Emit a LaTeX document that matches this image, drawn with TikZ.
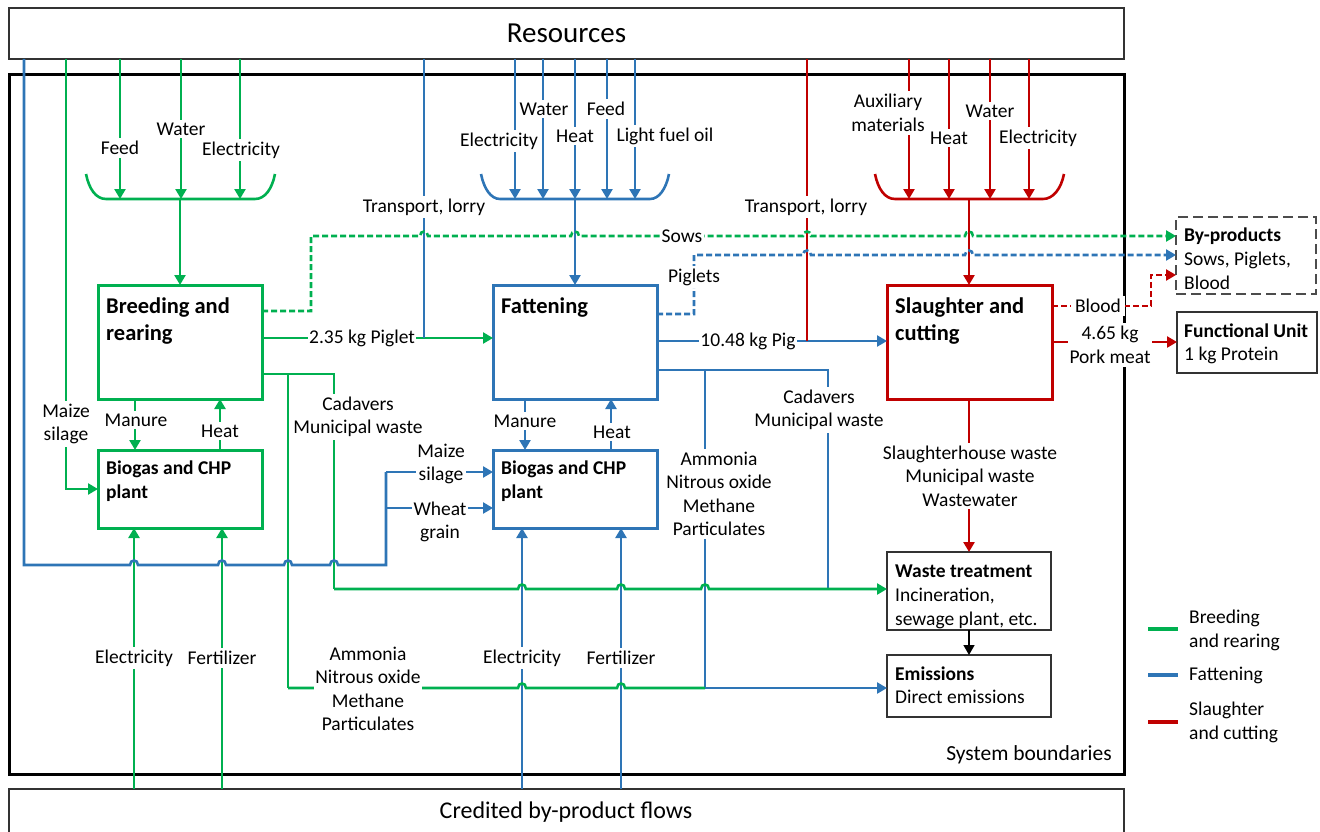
\documentclass[tikz,border=0pt]{standalone}
\usepackage{fontspec}
\setmainfont{Carlito}
\usetikzlibrary{arrows.meta}
\definecolor{grn}{RGB}{0,176,80}
\definecolor{blu}{RGB}{46,117,182}
\definecolor{rd}{RGB}{192,0,0}
\tikzset{
 fl/.style={line width=2.6pt},
 gl/.style={fl,draw=grn},
 bl/.style={fl,draw=blu},
 rl/.style={fl,draw=rd},
 arr/.style={-{Triangle[length=10pt,width=11pt]}},
 dsh/.style={dash pattern=on 6pt off 3pt},
 hop/.style args={#1/#2}{insert path={-- (#1-4,#2) .. controls (#1-4,#2-6) and (#1+4,#2-6) .. (#1+4,#2)}},
 lab/.style={font=\fontsize{19.5}{23.5}\selectfont, fill=white, inner xsep=1.5pt, inner ysep=3pt, align=center},
 pbox/.style={draw, line width=3pt, anchor=north west, inner sep=0pt, outer sep=0pt},
 kbox/.style={draw=black!80, line width=1.5pt, anchor=north west, inner sep=0pt, outer sep=0pt},
 ttl/.style={font=\fontsize{22.5}{27}\selectfont\bfseries, anchor=base west, inner sep=0pt},
 btl/.style={font=\fontsize{19.5}{24}\selectfont\bfseries, anchor=base west, inner sep=0pt},
 txt/.style={font=\fontsize{19.5}{24}\selectfont, anchor=base west, inner sep=0pt},
}
\begin{document}
\begin{tikzpicture}[x=1pt,y=-1pt]
\useasboundingbox (0,0) rectangle (1320,832);
% frames
\node[kbox, minimum width=1115pt, minimum height=51pt, font=\fontsize{29}{34}\selectfont] (res) at (9,8) {Resources};
\node[draw=black, line width=3pt, anchor=north west, inner sep=0pt, outer sep=0pt, minimum width=1115pt, minimum height=699pt] (sys) at (9,75) {};
\node[kbox, minimum width=1115pt, minimum height=70pt] (cred) at (9,789) {};
\node[font=\fontsize{24}{28}\selectfont] (credt) at (566,812) {Credited by-product flows};
\node[font=\fontsize{21.5}{26}\selectfont] (sysb) at (1029,755) {System boundaries};
% process boxes
\node[pbox, draw=grn, minimum width=164pt, minimum height=114pt] (breed) at (98,285) {};
\node[pbox, draw=grn, minimum width=164pt, minimum height=78pt] (bgA) at (98,450) {};
\node[pbox, draw=blu, minimum width=164pt, minimum height=114pt] (fat) at (493,285) {};
\node[pbox, draw=blu, minimum width=164pt, minimum height=78pt] (bgB) at (493,450) {};
\node[pbox, draw=rd, minimum width=165pt, minimum height=114pt] (slau) at (887,285) {};
\node[kbox, minimum width=164pt, minimum height=78pt] (waste) at (887,552) {};
\node[kbox, minimum width=164pt, minimum height=62pt] (emis) at (887,655) {};
\node[kbox, minimum width=140pt, minimum height=61pt] (fu) at (1177,312) {};
\node[kbox, draw=black!70, dash pattern=on 10pt off 5pt, minimum width=140pt, minimum height=77pt] (byp) at (1176,217) {};
% box texts
\node[ttl] (t1) at (106,313) {Breeding and};
\node[ttl] (t2) at (106,340) {rearing};
\node[btl] (t3) at (106,474) {Biogas and CHP};
\node[btl] (t4) at (106,498) {plant};
\node[ttl] (t5) at (501,313) {Fattening};
\node[btl] (t6) at (501,474) {Biogas and CHP};
\node[btl] (t7) at (501,498) {plant};
\node[ttl] (t8) at (895,313) {Slaughter and};
\node[ttl] (t9) at (895,340) {cutting};
\node[btl] (t10) at (895,577) {Waste treatment};
\node[txt] (t11) at (895,601) {Incineration,};
\node[txt] (t12) at (895,625) {sewage plant, etc.};
\node[btl] (t13) at (895,680) {Emissions};
\node[txt] (t14) at (895,703) {Direct emissions};
\node[btl] (t15) at (1184,337) {Functional Unit};
\node[txt] (t16) at (1184,360) {1 kg Protein};
\node[btl] (t17) at (1184,241) {By-products};
\node[txt] (t18) at (1184,265) {Sows, Piglets,};
\node[txt] (t19) at (1184,289) {Blood};
% ---------- green flows
\draw[gl,arr] (66,59) -- (66,489) -- (bgA.west);
\draw[gl,arr] (120,59) -- (120,199);
\draw[gl,arr] (181,59) -- (181,199);
\draw[gl,arr] (240,59) -- (240,199);
\draw[gl] (86,174) .. controls (89,189) and (96,199) .. (106,199) -- (255,199) .. controls (265,199) and (272,189) .. (275,174);
\draw[gl,arr] (180,199) -- (breed.north);
\draw[gl,arr] (135,399) -- (135,450);
\draw[gl,arr] (220,450) -- (220,399);
\draw[gl,arr] (134,789) -- (134,528);
\draw[gl,arr] (222,789) -- (222,528);
\draw[gl,arr] (262,338) -- (493,338);
\draw[gl] (262,374) -- (334,374) -- (334,589);
\draw[gl] (288,374) -- (288,688);
% ---------- blue flows
\draw[bl] (24,59) -- (24,565) [hop=134/565] [hop=222/565] [hop=288/565] [hop=334/565] -- (386,565) -- (386,472);
\draw[bl,arr] (386,472) -- (493,472);
\draw[bl,arr] (386,508) -- (493,508);
\draw[bl] (424,59) -- (424,338);
\draw[bl,arr] (515,59) -- (515,199);
\draw[bl,arr] (543,59) -- (543,199);
\draw[bl,arr] (575,59) -- (575,199);
\draw[bl,arr] (607,59) -- (607,199);
\draw[bl,arr] (635,59) -- (635,199);
\draw[bl] (481,174) .. controls (484,189) and (491,199) .. (500,199) -- (650,199) .. controls (659,199) and (666,189) .. (669,174);
\draw[bl,arr] (575,199) -- (fat.north);
\draw[bl,arr] (525,399) -- (525,450);
\draw[bl,arr] (611,450) -- (611,399);
\draw[bl,arr] (522,789) -- (522,528);
\draw[bl,arr] (621,789) -- (621,528);
\draw[bl,arr] (657,341) -- (887,341);
\draw[bl] (657,370) -- (828,370) -- (828,589);
\draw[bl] (705,370) -- (705,688);
\draw[bl,arr] (705,688) -- (887,688);
% green horizontals with hops
\draw[gl,arr] (334,589) [hop=522/589] [hop=621/589] [hop=705/589] -- (887,589);
\draw[gl] (288,688) [hop=522/688] [hop=621/688] -- (705,688);
% ---------- red flows
\draw[rl] (807,59) -- (807,341);
\draw[rl,arr] (909,59) -- (909,199);
\draw[rl,arr] (949,59) -- (949,199);
\draw[rl,arr] (990,59) -- (990,199);
\draw[rl,arr] (1029,59) -- (1029,199);
\draw[rl] (875,174) .. controls (878,189) and (885,199) .. (895,199) -- (1043,199) .. controls (1053,199) and (1061,189) .. (1064,174);
\draw[rl,arr] (969,199) -- (969,285);
\draw[rl,arr] (1052,342) -- (1177,342);
\draw[rl,arr] (969,399) -- (969,552);
\draw[black,line width=1.5pt,arr] (969,630) -- (969,655);
% ---------- dashed by-product flows
\draw[gl,dsh,arr] (262,311) -- (311,311) -- (311,236) [hop=424/236] [hop=575/236] [hop=807/236] [hop=969/236] -- (1176,236);
\draw[bl,dsh,arr] (657,314) -- (694,314) -- (694,255) [hop=807/255] [hop=969/255] -- (1176,255);
\draw[rl,dsh,arr] (1052,306) -- (1151,306) -- (1151,275) -- (1176,275);
% ---------- labels
\node[lab] (a1) at (120,148) {Feed};
\node[lab] (a2) at (181,129) {Water};
\node[lab] (a3) at (241,150) {Electricity};
\node[lab] (a4) at (499,141) {Electricity};
\node[lab] (a5) at (544,109) {Water};
\node[lab] (a6) at (575,136) {Heat};
\node[lab] (a7) at (606,109) {Feed};
\node[lab] (a8) at (665,136) {Light fuel oil};
\node[lab] (a9) at (888,113) {Auxiliary\\materials};
\node[lab] (a10) at (949,138) {Heat};
\node[lab] (a11) at (990,111) {Water};
\node[lab] (a12) at (1038,138) {Electricity};
\node[lab] (a13) at (424,207) {Transport, lorry};
\node[lab] (a14) at (806,207) {Transport, lorry};
\node[lab] (a15) at (682,236) {Sows};
\node[lab] (a16) at (694,277) {Piglets};
\node[lab] (a17) at (362,338) {2.35 kg Piglet};
\node[lab] (a18) at (748,341) {10.48 kg Pig};
\node[lab, inner xsep=4pt] (a19) at (1098,306) {Blood};
\node[lab] (a20) at (1110,345) {4.65 kg\\Pork meat};
\node[lab] (a21) at (66,424) {Maize\\silage};
\node[lab] (a22) at (136,420) {Manure};
\node[lab] (a23) at (220,431) {Heat};
\node[lab] (a24) at (358,417) {Cadavers\\Municipal waste};
\node[lab] (a25) at (525,421) {Manure};
\node[lab] (a26) at (612,432) {Heat};
\node[lab] (a27) at (441,464) {Maize\\silage};
\node[lab] (a28) at (440,522) {Wheat\\grain};
\node[lab] (a29) at (719,494) {Ammonia\\Nitrous oxide\\Methane\\Particulates};
\node[lab] (a30) at (819,410) {Cadavers\\Municipal waste};
\node[lab] (a31) at (970,476) {Slaughterhouse waste\\Municipal waste\\Wastewater};
\node[lab] (a32) at (368,689) {Ammonia\\Nitrous oxide\\Methane\\Particulates};
\node[lab] (a33) at (134,658) {Electricity};
\node[lab] (a34) at (222,658) {Fertilizer};
\node[lab] (a35) at (522,658) {Electricity};
\node[lab] (a36) at (621,658) {Fertilizer};
% ---------- legend
\draw[grn,line width=3.5pt] (1148,629) -- (1178,629);
\draw[blu,line width=3.5pt] (1148,675) -- (1178,675);
\draw[rd,line width=3.5pt] (1148,722) -- (1178,722);
\node[anchor=west, align=left, inner sep=0pt, font=\fontsize{19.5}{24}\selectfont] (g1) at (1189,630) {Breeding\\and rearing};
\node[anchor=west, align=left, inner sep=0pt, font=\fontsize{19.5}{24}\selectfont] (g2) at (1189,675) {Fattening};
\node[anchor=west, align=left, inner sep=0pt, font=\fontsize{19.5}{24}\selectfont] (g3) at (1189,722) {Slaughter\\and cutting};
\end{tikzpicture}
\end{document}
